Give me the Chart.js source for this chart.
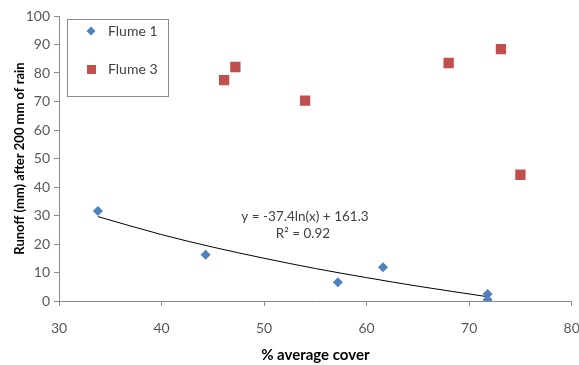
<!DOCTYPE html>
<html lang="en">
<head>
<meta charset="UTF-8">
<title>Runoff vs average cover</title>
<script src="https://cdn.jsdelivr.net/npm/chart.js"></script>
<style>
  html, body { margin: 0; padding: 0; background: #fff; }
  #wrap { width: 579px; height: 365px; }
</style>
</head>
<body>
<div id="wrap"><canvas id="myChart" width="579" height="365"></canvas></div>
<script>
// % average cover / runoff
const flume1X = [33.8, 44.3, 57.2, 61.6, 71.8, 71.8];
const flume1Y = [31.6, 16.2, 6.6, 11.8, 2.5, 0.4];
const flume3X = [46.1, 47.2, 54.0, 68.0, 73.1, 75.0];
const flume3Y = [77.5, 82.1, 70.3, 83.5, 88.4, 44.3];
// log trendline, points
const trendX = [33.8, 40, 45, 50, 55, 60, 65, 71.8];
const trendY = [29.6, 23.3, 18.9, 15.0, 11.4, 8.2, 5.2, 1.5];
const xTicks = [30, 40, 50, 60, 70, 80];
const yTicks = [0, 10, 20, 30, 40, 50, 60, 70, 80, 90, 100];

const toPts = (xs, ys) => xs.map((x, i) => ({ x: x, y: ys[i] }));

const blue = '#4F81BD';
const red = '#C0504D';
const axisGray = '#8c8c8c';
const fam = 'Lato, "Liberation Sans", sans-serif';
const tickFont = { family: fam, size: 14 };

// legend box + equation text drawn inside the plot
const extras = {
    id: 'extras',
    afterDraw(chart) {
        const ctx = chart.ctx;
        ctx.save();
        // legend box
        ctx.strokeStyle = '#8c8c8c';
        ctx.lineWidth = 1;
        ctx.strokeRect(67.5, 19.5, 101, 77);
        ctx.fillStyle = blue;
        ctx.beginPath();
        ctx.moveTo(91, 26.5); ctx.lineTo(95.5, 31); ctx.lineTo(91, 35.5); ctx.lineTo(86.5, 31);
        ctx.closePath(); ctx.fill();
        ctx.fillStyle = red;
        ctx.fillRect(87, 65, 9, 9);
        ctx.fillStyle = '#404040';
        ctx.font = '14px ' + fam;
        ctx.textBaseline = 'middle';
        ctx.fillText('Flume 1', 108, 31);
        ctx.fillText('Flume 3', 108, 69);
        // trendline equation
        ctx.font = '13.5px ' + fam;
        ctx.textAlign = 'center';
        ctx.fillText('y = -37.4ln(x) + 161.3', 305, 217);
        ctx.fillText('R\u00B2 = 0.92', 303, 234);
        ctx.restore();
    }
};

new Chart(document.getElementById('myChart'), {
    type: 'scatter',
    data: {
        datasets: [
            {
                label: 'Flume 1',
                data: toPts(flume1X, flume1Y),
                pointStyle: 'rectRot',
                pointRadius: 5,
                backgroundColor: blue,
                borderColor: blue,
                borderWidth: 0
            },
            {
                label: 'Flume 3',
                data: toPts(flume3X, flume3Y),
                pointStyle: 'rect',
                pointRadius: 7.3,
                backgroundColor: red,
                borderColor: red,
                borderWidth: 0
            },
            {
                label: 'Trend',
                data: toPts(trendX, trendY),
                showLine: true,
                pointRadius: 0,
                borderColor: '#000',
                borderWidth: 1,
                cubicInterpolationMode: 'monotone'
            }
        ]
    },
    options: {
        responsive: false,
        animation: false,
        layout: { padding: { top: 16, right: 0, left: 0, bottom: 0 } },
        plugins: {
            legend: { display: false },
            tooltip: { enabled: false }
        },
        scales: {
            x: {
                type: 'linear',
                min: 30, max: 80,
                afterBuildTicks: (axis) => { axis.ticks = xTicks.map(v => ({ value: v })); },
                afterFit: (axis) => {
                    axis.height = 64;
                    // tick padding is only meant to push labels down, not sideways
                    axis.paddingLeft = 0;
                    axis.paddingRight = 7;
                },
                grid: { drawOnChartArea: false, tickLength: 5, color: axisGray },
                border: { color: axisGray },
                ticks: { color: '#595959', font: tickFont, padding: 14 },
                title: {
                    display: true,
                    text: '% average cover',
                    color: '#000',
                    font: { family: fam, size: 15, weight: 'bold' },
                    padding: { top: 4, bottom: 1 }
                }
            },
            y: {
                min: 0, max: 100,
                afterBuildTicks: (axis) => { axis.ticks = yTicks.map(v => ({ value: v })); },
                afterFit: (axis) => { axis.width = 59; },
                grid: { drawOnChartArea: false, tickLength: 5, color: axisGray },
                border: { color: axisGray },
                ticks: { color: '#595959', font: tickFont, padding: 4 },
                title: {
                    display: true,
                    text: 'Runoff (mm) after 200 mm of rain',
                    color: '#000',
                    font: { family: fam, size: 13, weight: 'bold' },
                    padding: { top: 12, bottom: 2 }
                }
            }
        }
    },
    plugins: [extras]
});
</script>
</body>
</html>
